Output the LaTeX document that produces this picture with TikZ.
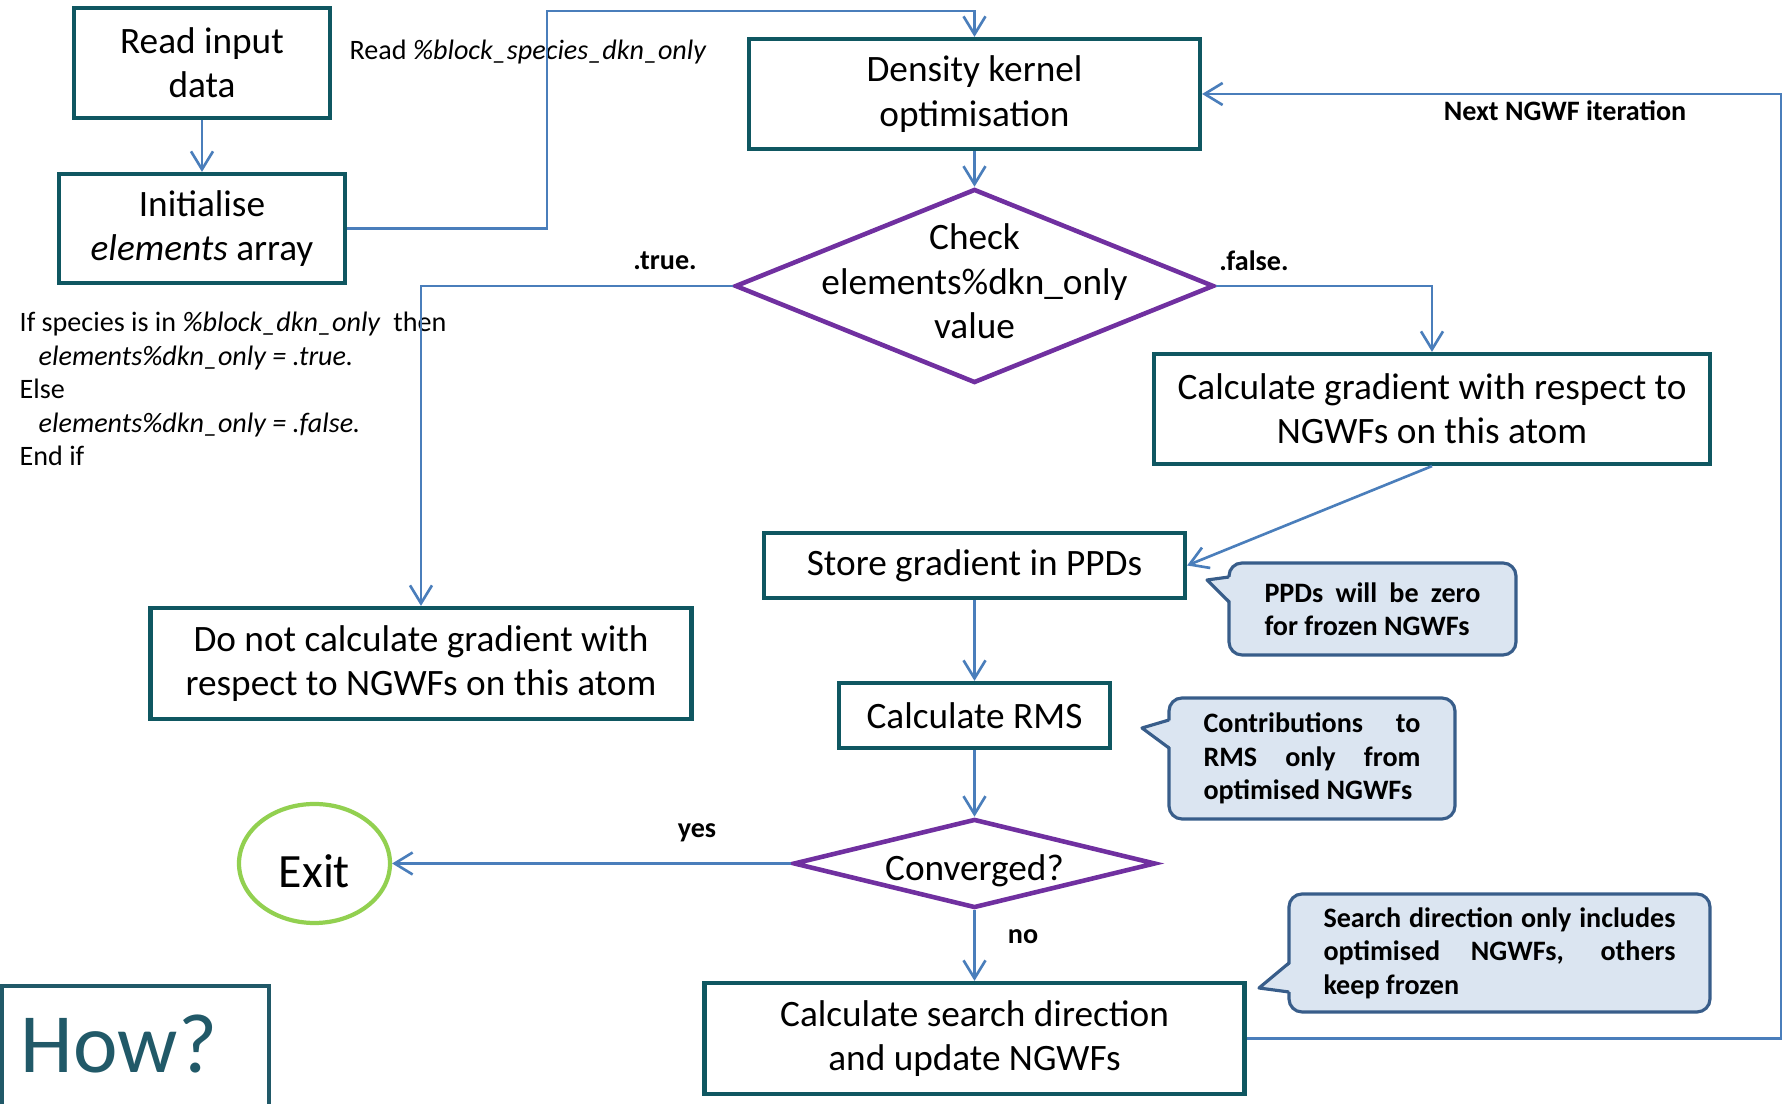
\documentclass[tikz,border=0pt]{standalone}
\usepackage{fontspec}
\setmainfont{Carlito}
\usetikzlibrary{shapes.geometric,arrows.meta}

\definecolor{boxteal}{RGB}{15,87,97}
\definecolor{decpurple}{RGB}{112,48,160}
\definecolor{flowblue}{RGB}{74,126,187}
\definecolor{exitgreen}{RGB}{146,208,80}
\definecolor{noteblue}{RGB}{56,93,138}
\definecolor{notefill}{RGB}{219,229,241}
\definecolor{howteal}{RGB}{33,89,104}

\newcommand{\boxfont}{\fontsize{10.6}{12.6}\selectfont}
\newcommand{\smallfont}{\fontsize{8}{9.5}\selectfont}
\newcommand{\flatbox}[2][0pt]{\makebox[0pt]{\smash{\raisebox{#1}{\begin{tabular}{@{}c@{}}#2\end{tabular}}}}}

\tikzset{
  box/.style={draw=boxteal, line width=1.2pt, align=center, inner sep=0pt, font=\boxfont},
  decision/.style={diamond, draw=decpurple, line width=1.3pt, inner sep=0pt, font=\boxfont},
  flow/.style={draw=flowblue, line width=0.75pt, ->},
  lbl/.style={font=\smallfont\bfseries, inner sep=0pt},
  note/.style={draw=noteblue, fill=notefill, line width=0.9pt, rounded corners=0.13cm,
    inner sep=0pt, font=\smallfont\bfseries, align=left},
  pointer/.style={draw=noteblue, line width=0.9pt, line join=round},
}

\begin{document}
\begin{tikzpicture}[>={Straight Barb[length=1.8mm,width=2.2mm]}]
  \useasboundingbox (0,0) rectangle (17.83,-11.04);

  % boxes
  \node[box, minimum width=2.56cm, minimum height=1.10cm] (read) at (2.02,-0.63) {Read input\\data};
  \node[box, minimum width=2.86cm, minimum height=1.09cm] (init) at (2.02,-2.285) {Initialise\\\textit{elements} array};
  \node[box, minimum width=4.51cm, minimum height=1.10cm] (dens) at (9.745,-0.94) {Density kernel\\optimisation};
  \node[decision, minimum width=4.79cm, minimum height=1.94cm] (check) at (9.745,-2.86) {\flatbox[-0.09cm]{Check\\elements\%dkn\_only\\value}};
  \node[box, minimum width=5.56cm, minimum height=1.10cm] (gradb) at (14.32,-4.09) {Calculate gradient with respect to\\NGWFs on this atom};
  \node[box, minimum width=4.21cm, minimum height=0.65cm] (storeb) at (9.745,-5.655) {Store gradient in PPDs};
  \node[box, minimum width=5.41cm, minimum height=1.11cm] (nograd) at (4.21,-6.635) {Do not calculate gradient with\\respect to NGWFs on this atom};
  \node[box, minimum width=2.71cm, minimum height=0.65cm] (rmsb) at (9.745,-7.155) {Calculate RMS};
  \node[decision, minimum width=3.62cm, minimum height=0.89cm] (conv) at (9.745,-8.635) {\flatbox[-0.18cm]{Converged?}};
  \node[ellipse, draw=exitgreen, line width=1.2pt, minimum width=1.51cm, minimum height=1.19cm,
    inner sep=0pt, text height=13.8pt, text depth=0pt, font=\fontsize{13.6}{16}\selectfont] (exit) at (3.145,-8.635) {Exit};
  \node[box, minimum width=5.40cm, minimum height=1.11cm] (searchb) at (9.745,-10.385) {Calculate search direction\\and update NGWFs};

  % side texts
  \node[anchor=west, inner sep=0pt, font=\smallfont] (readtxt) at (3.49,-0.52) {Read \textit{\%block\_species\_dkn\_only}};
  \node[anchor=west, inner sep=0pt, font=\smallfont, align=left] (iftxt) at (0.19,-3.89)
    {If species is in \textit{\%block\_dkn\_only}\ \ then\\
     \hspace*{0.19cm}\textit{elements\%dkn\_only = .true.}\\
     Else\\
     \hspace*{0.19cm}\textit{elements\%dkn\_only = .false.}\\
     End if};

  % connectors
  \coordinate (jog) at (5.47,-0.11);
  \coordinate (back) at (17.81,-0.94);
  \draw[flow] (read) -- (init);
  \draw[flow] (init.east) -| (jog) -| (dens.north);
  \draw[flow] (dens) -- (check);
  \draw[flow] (check.west) -| (nograd.north);
  \draw[flow] (check.east) -| (gradb.north);
  \draw[flow] (gradb.south) -- (storeb.east);
  \draw[flow] (storeb) -- (rmsb);
  \draw[flow] (rmsb) -- (conv);
  \draw[flow] (conv.west) -- (exit.east);
  \draw[flow] (conv.south) -- (searchb.north);
  \draw[flow] (searchb.east) -| (back) -- (dens.east);

  \node[lbl] (truelbl) at (6.65,-2.61) {.true.};
  \node[lbl] (falselbl) at (12.54,-2.61) {.false.};
  \node[lbl] (yeslbl) at (6.97,-8.33) {yes};
  \node[lbl] (nolbl) at (10.23,-9.37) {no};
  \node[lbl] (nextlbl) at (15.65,-1.11) {Next NGWF iteration};

  % callouts
  \node[note, minimum width=2.87cm, minimum height=0.92cm] (ppdnote) at (13.725,-6.09)
    {\makebox[2.16cm][s]{PPDs will be zero}\\for frozen NGWFs};
  \fill[notefill] (12.32,-5.77) -- (12.07,-5.80) -- (12.32,-6.02) -- cycle;
  \draw[pointer] (12.29,-5.77) -- (12.07,-5.80) -- (12.29,-6.02);

  \node[note, minimum width=2.86cm, minimum height=1.21cm] (rmsnote) at (13.12,-7.585)
    {\makebox[2.17cm][s]{Contributions to}\\\makebox[2.17cm][s]{RMS only from}\\optimised NGWFs};
  \fill[notefill] (11.72,-7.20) -- (11.42,-7.28) -- (11.72,-7.48) -- cycle;
  \draw[pointer] (11.69,-7.20) -- (11.42,-7.28) -- (11.69,-7.48);

  \node[note, minimum width=4.21cm, minimum height=1.18cm] (srchnote) at (14.995,-9.53)
    {\makebox[3.52cm][s]{Search direction only includes}\\\makebox[3.52cm][s]{optimised NGWFs, others}\\keep frozen};
  \fill[notefill] (12.92,-9.63) -- (12.59,-9.88) -- (12.92,-9.92) -- cycle;
  \draw[pointer] (12.89,-9.63) -- (12.59,-9.88) -- (12.89,-9.92);

  % corner title
  \draw[draw=howteal, line width=1.1pt] (0.02,-11.3) |- (2.69,-9.86) -- (2.69,-11.3);
  \node[text=howteal, font=\fontsize{24}{28}\selectfont, inner sep=0pt] (how) at (1.19,-10.44) {How?};
\end{tikzpicture}
\end{document}
